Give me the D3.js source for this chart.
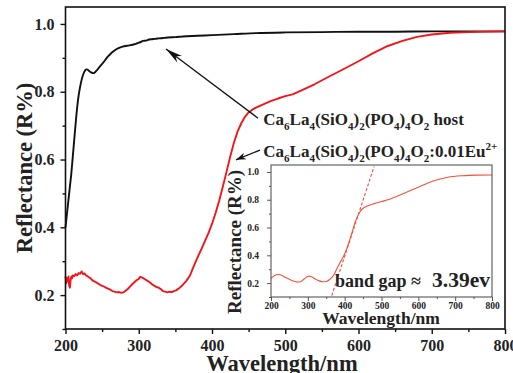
<!DOCTYPE html>
<html><head><meta charset="utf-8">
<script src="https://cdn.jsdelivr.net/npm/d3@7"></script>
<style>
body{margin:0;background:#fff}
svg{display:block}
text{font-family:"Liberation Serif","Times New Roman",serif;font-weight:bold;fill:#222}
</style></head>
<body><svg id="c" width="513" height="373"></svg>
<script>
// ---------------- data ----------------
const hostWL = [200,202,204,206,208,210,212,214,216,218,220,222,224,226,228,230,232,234,236,238,240,243,246,250,254,258,262,266,270,274,278,282,286,290,294,298,302,306,310,314,318,322,326,330,335,340,350,360,380,400,430,460,500,550,600,650,700,750,800];
const hostR  = [0.40,0.44,0.48,0.52,0.56,0.61,0.66,0.71,0.755,0.79,0.815,0.835,0.85,0.86,0.866,0.865,0.862,0.858,0.856,0.855,0.857,0.864,0.872,0.882,0.893,0.904,0.913,0.92,0.926,0.93,0.933,0.935,0.936,0.938,0.94,0.943,0.946,0.95,0.951,0.954,0.955,0.956,0.957,0.958,0.959,0.96,0.961,0.963,0.965,0.967,0.970,0.973,0.975,0.976,0.977,0.977,0.978,0.978,0.978];

const dopedWL = [200,201,202,203,204,205,206,207,208,209,210,212,214,216,218,220,222,224,226,228,230,232,234,236,238,240,243,246,249,252,255,258,261,264,267,270,273,276,279,282,285,288,291,294,297,300,302,304,306,309,312,315,318,321,324,327,330,333,336,339,342,345,348,351,355,360,365,370,375,380,385,390,395,400,405,410,415,420,425,430,435,440,445,450,455,460,470,480,490,500,510,520,540,560,580,600,620,640,660,680,700,725,750,800];
const dopedR  = [0.255,0.235,0.25,0.24,0.255,0.228,0.222,0.245,0.255,0.25,0.258,0.256,0.262,0.258,0.265,0.263,0.27,0.262,0.264,0.258,0.256,0.252,0.25,0.245,0.242,0.24,0.236,0.232,0.228,0.226,0.222,0.219,0.216,0.212,0.21,0.208,0.209,0.207,0.208,0.213,0.218,0.225,0.232,0.238,0.244,0.248,0.254,0.252,0.25,0.246,0.242,0.238,0.232,0.228,0.224,0.222,0.218,0.212,0.21,0.208,0.21,0.209,0.212,0.214,0.22,0.23,0.242,0.258,0.285,0.31,0.333,0.358,0.382,0.41,0.443,0.48,0.522,0.565,0.61,0.65,0.683,0.707,0.726,0.739,0.747,0.753,0.763,0.772,0.78,0.787,0.792,0.802,0.822,0.845,0.867,0.89,0.914,0.935,0.95,0.962,0.969,0.974,0.976,0.978];

const insetWL = [200,205,210,220,230,240,250,260,270,280,290,300,305,310,320,330,340,350,360,370,380,390,400,410,420,430,440,450,460,480,500,520,560,600,640,680,720,760,800];
const insetR  = [0.235,0.245,0.255,0.262,0.255,0.24,0.227,0.215,0.207,0.21,0.23,0.248,0.25,0.245,0.23,0.217,0.21,0.212,0.228,0.256,0.31,0.36,0.41,0.48,0.565,0.65,0.707,0.739,0.753,0.772,0.787,0.802,0.845,0.89,0.935,0.962,0.973,0.977,0.978];

const tangentWL = [365,480];
const tangentR  = [0.11,1.04];

const xTicks = [200,300,400,500,600,700,800];
const xMinor = [250,350,450,550,650,750];
const yTicks = [0.2,0.4,0.6,0.8,1.0];
const yMinor = [0.1,0.3,0.5,0.7,0.9];

const xTitle = "Wavelength/nm";
const yTitle = "Reflectance (R%)";
const bandGapText = "band gap \u2248";
const bandGapValue = "3.39ev";

// ---------------- drawing ----------------
const svg = d3.select("#c");
const M = {l:65.5, r:505, t:7, b:329};
const x = d3.scaleLinear().domain([200,800]).range([M.l, M.r]);
const y = d3.scaleLinear().domain([0.1,1.05]).range([M.b, M.t]);

function axes(g, xs, ys, o) {
  const fx = d3.format("d"), fy = d3.format(".1f");
  const xb = g.append("g").attr("transform",`translate(0,${ys.range()[0]})`)
    .call(d3.axisBottom(xs).tickValues(xTicks).tickSize(o.tMaj).tickPadding(o.xPad).tickFormat(fx));
  const xm = g.append("g").attr("transform",`translate(0,${ys.range()[0]})`)
    .call(d3.axisBottom(xs).tickValues(xMinor).tickSize(o.tMin).tickFormat(""));
  const yl = g.append("g").attr("transform",`translate(${xs.range()[0]},0)`)
    .call(d3.axisLeft(ys).tickValues(yTicks).tickSize(o.tMaj).tickPadding(o.yPad).tickFormat(fy));
  const ym = g.append("g").attr("transform",`translate(${xs.range()[0]},0)`)
    .call(d3.axisLeft(ys).tickValues(yMinor).tickSize(o.tMin).tickFormat(""));
  [xb,xm,yl,ym].forEach(a=>{
    a.select(".domain").remove();
    a.attr("font-family",null).attr("font-size",null);
    a.selectAll("line").attr("stroke",o.col).attr("stroke-width",o.tw);
  });
  xb.selectAll("text").attr("font-size",o.fx).attr("fill","#222");
  yl.selectAll("text").attr("font-size",o.fy).attr("fill","#222");
  g.append("rect").attr("x",xs.range()[0]).attr("y",ys.range()[1])
    .attr("width",xs.range()[1]-xs.range()[0]).attr("height",ys.range()[0]-ys.range()[1])
    .attr("fill","none").attr("stroke",o.col).attr("stroke-width",o.fw);
}

const main = svg.append("g");
main.append("rect").attr("x",M.l).attr("y",M.t).attr("width",M.r-M.l).attr("height",M.b-M.t).attr("fill","#fff");

const lineG = (xs,ys)=>d3.line().x(d=>xs(d[0])).y(d=>ys(d[1]));
main.append("path").datum(hostWL.map((w,i)=>[w,hostR[i]]))
  .attr("d", lineG(x,y).curve(d3.curveMonotoneX)).attr("fill","none").attr("stroke","#111").attr("stroke-width",1.9);
main.append("path").datum(dopedWL.map((w,i)=>[w,dopedR[i]]))
  .attr("d", lineG(x,y)).attr("fill","none").attr("stroke","#f2161a").attr("stroke-width",1.9).attr("stroke-linejoin","round");

axes(main, x, y, {tMaj:5, tMin:3, xPad:6, yPad:6, col:"#111", tw:1.4, fw:1.6, fx:16, fy:16});

// titles
svg.append("text").attr("x",282).attr("y",371).attr("text-anchor","middle").attr("font-size",22.5).text(xTitle);
svg.append("text").attr("transform","translate(32,168) rotate(-90)").attr("text-anchor","middle").attr("font-size",22.5).text(yTitle);

// arrows
function arrow(x1,y1,x2,y2,len,hw){
  main.append("line").attr("x1",x1).attr("y1",y1).attr("x2",x2).attr("y2",y2).attr("stroke","#111").attr("stroke-width",1.3);
  const a = Math.atan2(y2-y1,x2-x1), c=Math.cos(a), s=Math.sin(a);
  const bx = x2-len*c, by = y2-len*s;
  const mx = x2-len*0.7*c, my = y2-len*0.7*s;
  main.append("path").attr("d",`M${x2},${y2}L${bx-hw*s},${by+hw*c}L${mx},${my}L${bx+hw*s},${by-hw*c}Z`).attr("fill","#111");
}
arrow(x(462.8),y(0.722),x(337.2),y(0.926),17,4);
arrow(x(465.5),y(0.628),x(432.8),y(0.599),10,3.5);

// formula labels
function formula(px,py,parts,size){
  const t = svg.append("text").attr("x",px).attr("y",py).attr("font-size",size);
  let shift = 0;
  parts.forEach(p=>{
    const target = p[1]===1 ? 5 : p[1]===2 ? -7 : 0;
    t.append("tspan").attr("dy",target-shift).attr("font-size",p[1]?11:size).text(p[0]);
    shift = target;
  });
}
const base = [["Ca",0],["6",1],["La",0],["4",1],["(SiO",0],["4",1],[")",0],["2",1],["(PO",0],["4",1],[")",0],["4",1],["O",0],["2",1]];
formula(x(470),y(0.702),base.concat([[" host",0]]),17);
formula(x(470),y(0.608),base.concat([[":0.01Eu",0],["2+",2]]),17);

// ---------------- inset ----------------
const ix = d3.scaleLinear().domain([200,800]).range([271,492]);
const iy = d3.scaleLinear().domain([0.1,1.05]).range([297,165]);
const ins = svg.append("g");
ins.append("rect").attr("x",271).attr("y",165).attr("width",221).attr("height",132).attr("fill","#fff");
ins.append("path").datum(insetWL.map((w,i)=>[w,insetR[i]]))
  .attr("d", lineG(ix,iy).curve(d3.curveMonotoneX)).attr("fill","none").attr("stroke","#f4503a").attr("stroke-width",1.1);
ins.append("path").datum(tangentWL.map((w,i)=>[w,tangentR[i]]))
  .attr("d", lineG(ix,iy)).attr("fill","none").attr("stroke","#f4503a").attr("stroke-width",1.1).attr("stroke-dasharray","3,2");
axes(ins, ix, iy, {tMaj:4, tMin:2, xPad:1, yPad:8, col:"#555", tw:1, fw:1.1, fx:9.5, fy:9.5});

svg.append("text").attr("x",381).attr("y",324).attr("text-anchor","middle").attr("font-size",17.5).text(xTitle);
svg.append("text").attr("transform","translate(241,242) rotate(-90)").attr("text-anchor","middle").attr("font-size",19).text(yTitle);

svg.append("text").attr("x",335).attr("y",287).attr("font-size",18).text(bandGapText);
svg.append("text").attr("x",432).attr("y",287).attr("font-size",21.5).text(bandGapValue);
</script></body></html>
